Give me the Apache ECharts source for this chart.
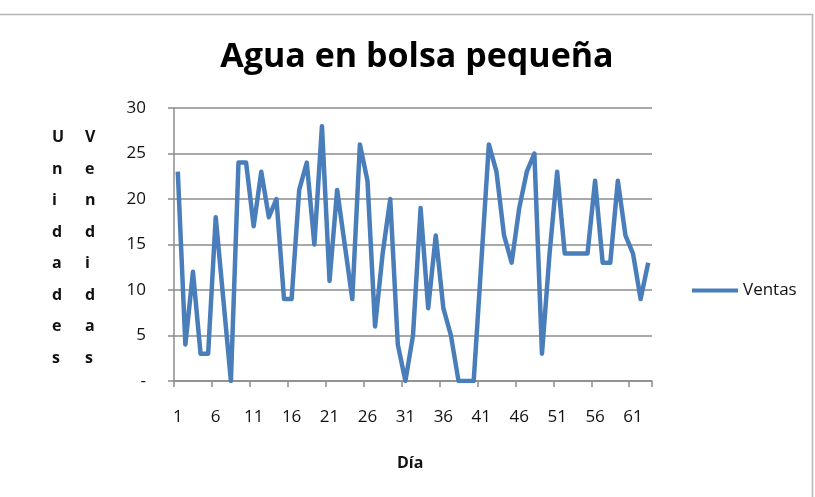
<!DOCTYPE html>
<html>
<head>
<meta charset="utf-8">
<script src="https://cdn.jsdelivr.net/npm/echarts@6/dist/echarts.min.js"></script>
<style>
  html, body { margin: 0; padding: 0; background: #fff; }
  #chart { width: 815px; height: 497px; }
</style>
</head>
<body>
<div id="chart"></div>
<script>
// Día 1..63
const dias = []
for (let d = 1; d <= 63; d++) dias.push(String(d))

const ventas = [
  23, 4, 12, 3, 3, 18, 9, 0, 24, 24,
  17, 23, 18, 20, 9, 9, 21, 24, 15, 28,
  11, 21, 15, 9, 26, 22, 6, 14, 20, 4,
  0, 5, 19, 8, 16, 8, 5, 0, 0, 0,
  13, 26, 23, 16, 13, 19, 23, 25, 3, 14,
  23, 14, 14, 14, 14, 22, 13, 13, 22, 16,
  14, 9, 13
]

const yTicks = [0, 5, 10, 15, 20, 25, 30]

const font = '"Open Sans", "Noto Sans", sans-serif'
const textColor = '#111'
const gridColor = '#8c8c8c'

const chart = echarts.init(document.getElementById('chart'), null, { renderer: 'canvas' })

chart.setOption({
  animation: false,
  backgroundColor: '#fff',
  title: {
    text: 'Agua en bolsa pequeña',
    left: 417, top: 40, textAlign: 'center', padding: 0,
    textStyle: { fontFamily: font, fontSize: 34, fontWeight: 'bold', color: '#000' }
  },
  legend: {
    left: 692, top: 282, padding: 0,
    icon: 'rect', itemWidth: 46, itemHeight: 4, itemGap: 5,
    textStyle: { fontFamily: font, fontSize: 17, color: textColor },
    data: ['Ventas']
  },
  grid: { left: 174, right: 163, top: 108, bottom: 116 },
  xAxis: {
    type: 'category',
    data: dias,
    boundaryGap: true,
    axisLine: { lineStyle: { color: gridColor, width: 1.5 } },
    axisTick: { show: true, interval: 4, length: 6, lineStyle: { color: gridColor, width: 1.5 } },
    axisLabel: { interval: 4, margin: 28, fontFamily: font, fontSize: 17, color: textColor },
    splitLine: { show: false }
  },
  yAxis: {
    type: 'value',
    min: yTicks[0], max: yTicks[yTicks.length - 1], interval: 5,
    axisLine: { show: true, lineStyle: { color: gridColor, width: 1.5 } },
    axisTick: { show: true, length: 6, lineStyle: { color: gridColor, width: 1.5 } },
    axisLabel: {
      margin: 28, fontFamily: font, fontSize: 17, color: textColor,
      formatter: v => (v === 0 ? '-' : String(v))
    },
    splitLine: { lineStyle: { color: gridColor, width: 1.5 } }
  },
  graphic: [
    {
      type: 'rect', left: -5, top: 12, silent: true,
      shape: { width: 815, height: 500 },
      style: { fill: 'none', stroke: '#b5b5b5', lineWidth: 1.5 }
    },
    {
      type: 'text', left: 52, top: 122,
      style: {
        text: 'U\nn\ni\nd\na\nd\ne\ns', fill: textColor, align: 'center',
        font: 'bold 16px ' + font, lineHeight: 31.5, width: 16
      }
    },
    {
      type: 'text', left: 85, top: 122,
      style: {
        text: 'V\ne\nn\nd\ni\nd\na\ns', fill: textColor, align: 'center',
        font: 'bold 16px ' + font, lineHeight: 31.5, width: 16
      }
    },
    {
      type: 'text', left: 397, top: 455,
      style: { text: 'Día', fill: textColor, font: 'bold 16px ' + font }
    }
  ],
  series: [{
    name: 'Ventas',
    type: 'line',
    data: ventas,
    showSymbol: false,
    symbol: 'none',
    lineStyle: { color: '#4a7ebb', width: 4.5, join: 'round' },
    itemStyle: { color: '#4a7ebb' }
  }]
})
</script>
</body>
</html>
